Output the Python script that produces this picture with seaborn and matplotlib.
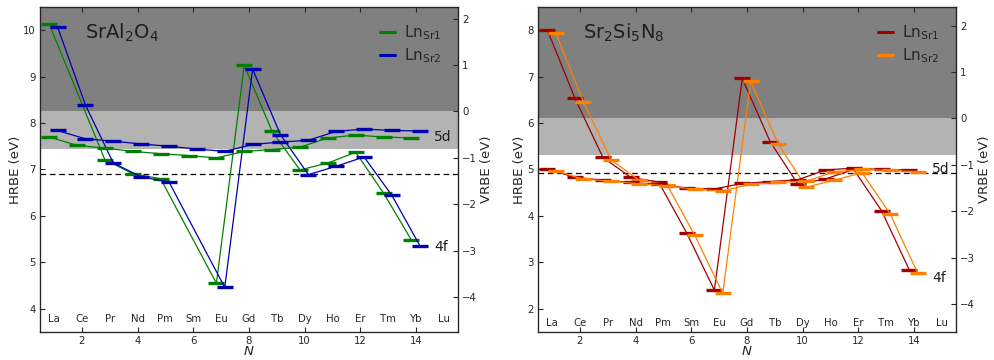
import numpy as np
import pandas as pd
import matplotlib
matplotlib.use("Agg")
import matplotlib.pyplot as plt
from matplotlib.lines import Line2D
import seaborn as sns

# Lanthanide series, N = 1 .. 15
elements = ["La", "Ce", "Pr", "Nd", "Pm", "Sm", "Eu", "Gd",
            "Tb", "Dy", "Ho", "Er", "Tm", "Yb", "Lu"]
N = np.arange(1, 16)
nan = np.nan

# SrAl2O4: Ln2+ 4f ground state and lowest 5d state, HRBE in eV
sral_4f_sr1 = [10.13, nan, 7.21, 6.91, 6.80, nan, 4.55, 9.24, 7.82, 6.99, 7.14, 7.37, 6.49, 5.48, nan]
sral_4f_sr2 = [10.07, 8.39, 7.14, 6.84, 6.73, nan, 4.46, 9.16, 7.75, 6.89, 7.07, 7.27, 6.44, 5.36, nan]
sral_5d_sr1 = [7.70, 7.52, 7.46, 7.39, 7.34, 7.30, 7.25, 7.39, 7.43, 7.48, 7.68, 7.74, 7.70, 7.68, nan]
sral_5d_sr2 = [7.84, 7.66, 7.61, 7.55, 7.50, 7.44, 7.39, 7.54, 7.59, 7.63, 7.82, 7.87, 7.84, 7.83, nan]
sral_vrbe_zero = 8.25      # HRBE of the conduction band bottom (VRBE = 0)
sral_band_low = 7.45       # lower edge of the light band
sral_dashed = 6.91

# Sr2Si5N8
ssn_4f_sr1 = [8.01, 6.53, 5.26, 4.83, 4.73, 3.64, 2.40, 6.96, 5.60, 4.68, 4.80, 5.00, 4.11, 2.83, nan]
ssn_4f_sr2 = [7.95, 6.46, 5.20, 4.77, 4.67, 3.58, 2.33, 6.90, 5.54, 4.62, 4.77, 4.93, 4.05, 2.76, nan]
ssn_5d_sr1 = [5.01, 4.83, 4.77, 4.72, 4.68, 4.60, 4.58, 4.70, 4.74, 4.78, 4.99, 5.03, 5.00, 4.99, nan]
ssn_5d_sr2 = [4.97, 4.79, 4.75, 4.69, 4.65, 4.57, 4.54, 4.68, 4.72, 4.75, 4.95, 5.00, 4.98, 4.95, nan]
ssn_vrbe_zero = 6.10
ssn_band_low = 5.31
ssn_dashed = 4.92

sns.set_style("ticks")
plt.rcParams["font.family"] = ["DejaVu Sans"]
plt.rcParams["mathtext.fontset"] = "dejavusans"

fig = plt.figure(figsize=(9.95, 3.6), dpi=100)
ax1 = fig.add_axes([0.0402, 0.0778, 0.4201, 0.9028])
ax2 = fig.add_axes([0.5407, 0.0778, 0.4201, 0.9028])

SHIFT1, SHIFT2 = -0.17, 0.13


def level_line(ax, values, shift, color):
    df = pd.DataFrame({"N": N + shift, "E": values}).dropna()
    sns.lineplot(data=df, x="N", y="E", ax=ax, color=color, lw=0.9,
                 marker="_", markersize=11.5, markeredgewidth=2.4,
                 markeredgecolor=color, estimator=None, sort=False,
                 legend=False, zorder=3)


def panel(ax, name, ylim, vzero, blow, dashed,
          f1, f2, d1, d2, c1, c2, yticks, lab_y, d_y, f_y):
    ax.set_xlim(0.5, 15.5)
    ax.set_ylim(*ylim)
    ax.axhspan(vzero, ylim[1], color="0.5", lw=0, zorder=0)
    ax.axhspan(blow, vzero, color="0.7", lw=0, zorder=0)
    ax.axhline(dashed, color="k", ls=(0, (4.5, 3.0)), lw=0.9, zorder=1)

    level_line(ax, f1, SHIFT1, c1)
    level_line(ax, f2, SHIFT2, c2)
    level_line(ax, d1, SHIFT1, c1)
    level_line(ax, d2, SHIFT2, c2)

    for n, el in zip(N, elements):
        ax.text(n, lab_y, el, ha="center", va="center", fontsize=7.3)

    ax.text(2.1, ylim[1] - 0.55, name, fontsize=14, va="center", ha="left",
            color="0.12")
    ax.text(14.65, d_y, "5d", fontsize=10, va="center", ha="left", color="0.12")
    ax.text(14.65, f_y, "4f", fontsize=10, va="center", ha="left", color="0.12")

    ax.set_xticks(range(2, 16, 2))
    ax.set_yticks(yticks)
    ax.tick_params(direction="in", top=True, length=3.5, width=0.8,
                   labelsize=7.3, pad=3)
    ax.set_xlabel("$N$", fontsize=9.5, labelpad=-1)
    ax.set_ylabel("HRBE (eV)", fontsize=9.5, labelpad=1)
    for s in ax.spines.values():
        s.set_linewidth(0.9)

    tw = ax.twinx()
    tw.set_ylim(ylim[0] - vzero, ylim[1] - vzero)
    tw.set_yticks(range(-4, 3))
    tw.tick_params(direction="in", length=3.5, width=0.8, labelsize=7.3, pad=3)
    tw.set_ylabel("VRBE (eV)", fontsize=9.5, labelpad=2)

    handles = [Line2D([], [], color=c1, lw=2.2), Line2D([], [], color=c2, lw=2.2)]
    ax.legend(handles, ["Ln$_{\\rm Sr1}$", "Ln$_{\\rm Sr2}$"], loc="upper right",
              bbox_to_anchor=(0.968, 0.96), frameon=False, fontsize=11,
              handlelength=1.0, handletextpad=0.6, labelspacing=0.3,
              borderaxespad=0, borderpad=0.2)


panel(ax1, "SrAl$_2$O$_4$", (3.5, 10.5), sral_vrbe_zero, sral_band_low, sral_dashed,
      sral_4f_sr1, sral_4f_sr2, sral_5d_sr1, sral_5d_sr2,
      "#008000", "#0000b0", range(4, 11), 3.79, 7.71, 5.34)
panel(ax2, "Sr$_2$Si$_5$N$_8$", (1.5, 8.5), ssn_vrbe_zero, ssn_band_low, ssn_dashed,
      ssn_4f_sr1, ssn_4f_sr2, ssn_5d_sr1, ssn_5d_sr2,
      "#a00000", "#ff8000", range(2, 9), 1.69, 5.0, 2.67)

fig.savefig("out.png", dpi=100)
